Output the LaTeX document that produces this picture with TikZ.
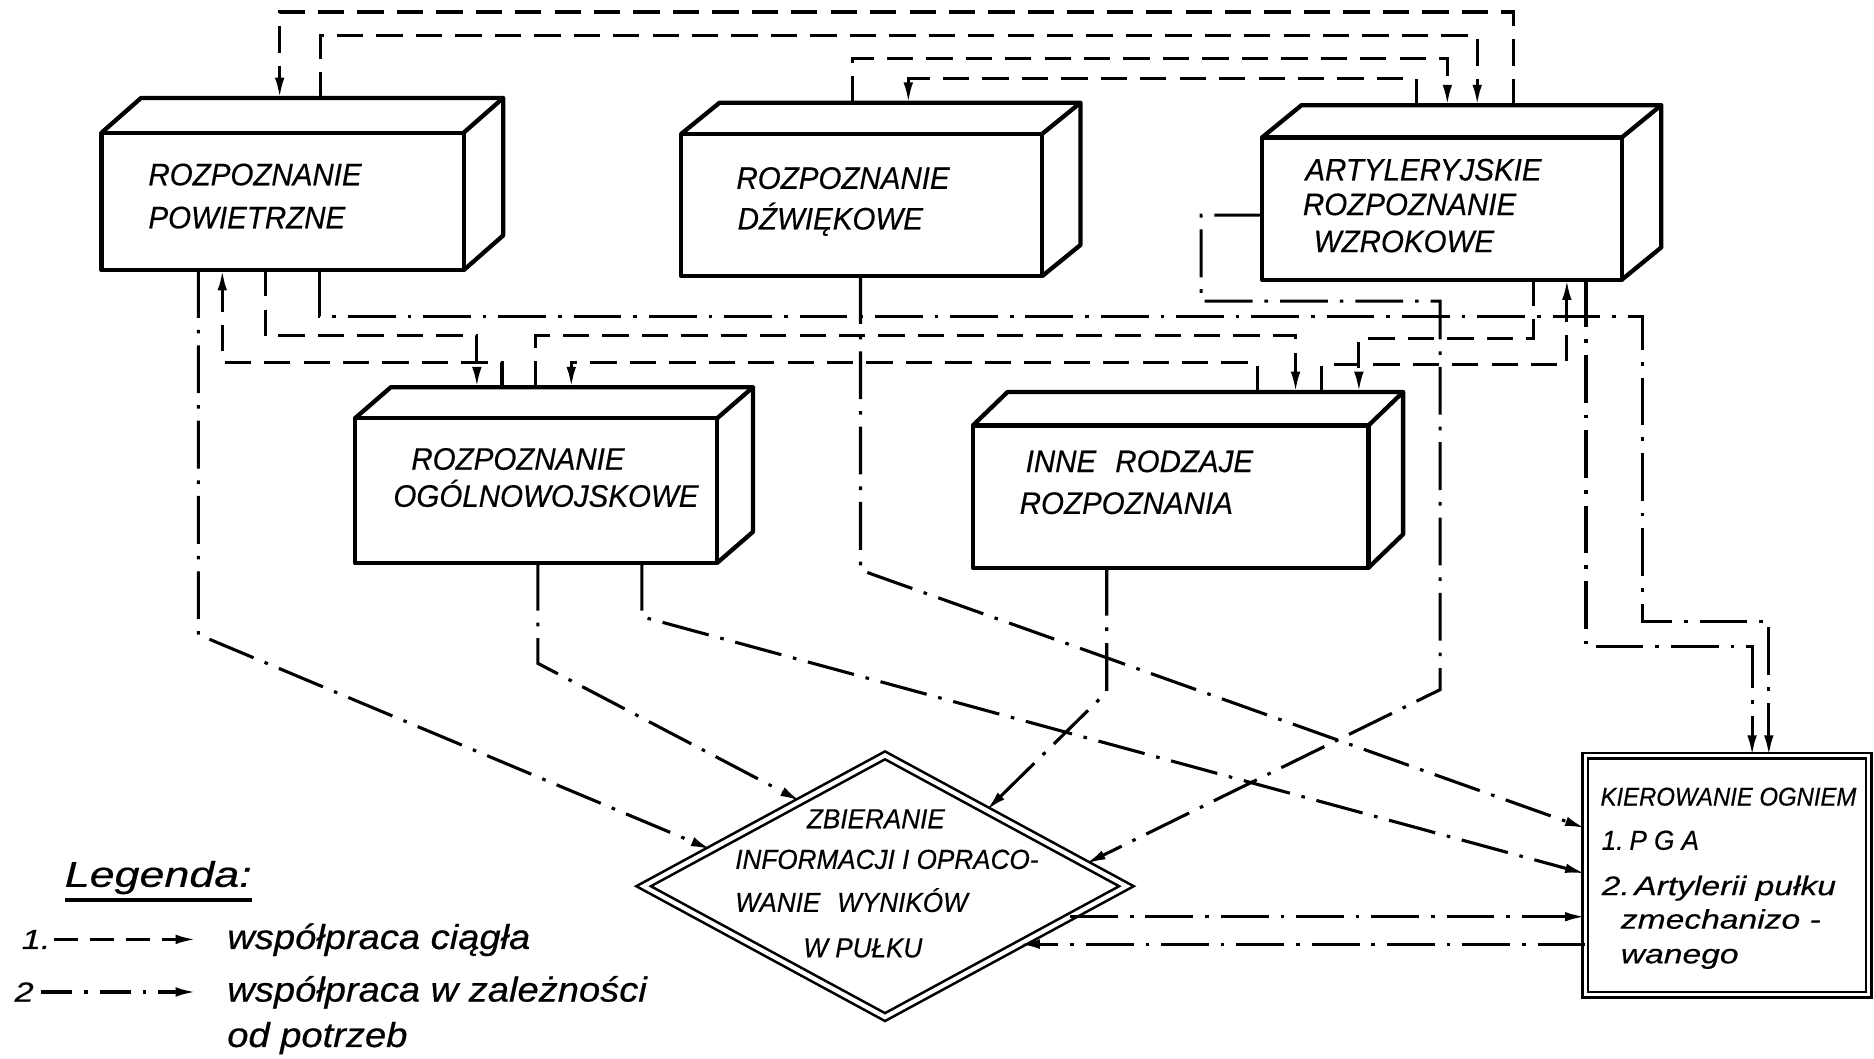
\documentclass[tikz,border=0pt]{standalone}
\usepackage{fontspec}
\setmainfont{Liberation Sans}
\newfontfamily\handfont{Liberation Sans}[FakeStretch=0.95, FakeBold=0.4]
\newfontfamily\handnarrow{Liberation Sans}[FakeStretch=0.93, FakeBold=0.4]
\newfontfamily\handwide{Liberation Sans}[FakeStretch=1.25, FakeBold=0.4]
\newfontfamily\handleg{Liberation Sans}[FakeStretch=1.1, FakeBold=0.5]
\usetikzlibrary{arrows.meta,calc,shapes.geometric}

% front face node + top and side faces of a block
% #1 name, #2 x1, #3 y1, #4 x2, #5 y2, #6 depth dx, #7 depth dy
\newcommand\cuboid[7]{%
  \node[face, minimum width={#4-#2}, minimum height={#5-#3}] (#1) at ({(#2+#4)/2},{(#3+#5)/2}) {};
  \draw[edge] (#1.north west) -- ++(#6,#7) coordinate (#1-b)
     -- ([shift={(#6,#7)}]#1.north east) -- ([shift={(#6,#7)}]#1.south east) -- (#1.south east);
  \draw[edge] (#1.north east) -- ++(#6,#7);
}

\begin{document}
\begin{tikzpicture}[x=1pt,y=-1pt,
  face/.style={draw, rectangle, line width=3.6pt, line join=round, inner sep=0pt, outer sep=0pt},
  edge/.style={line width=3.6pt, line join=round},
  conn/.style={line width=2.6pt},
  dsh/.style={conn, dash pattern=on 22pt off 11pt},
  dshdot/.style={conn, dash pattern=on 40pt off 10pt on 3pt off 10pt},
  arr/.style={-{Latex[length=17pt,width=8pt]}},
  capt/.style={inner sep=0pt, anchor=base west, font=\handfont\itshape\fontsize{26}{31}\selectfont},
  dtxt/.style={inner sep=0pt, anchor=base west, font=\handfont\itshape\fontsize{23}{27}\selectfont},
  ktxt/.style={inner sep=0pt, anchor=base west, font=\handnarrow\itshape\fontsize{21.5}{26}\selectfont},
  klow/.style={inner sep=0pt, anchor=base west, font=\handwide\itshape\fontsize{22.5}{27}\selectfont},
  legtxt/.style={inner sep=0pt, anchor=base west, font=\handleg\itshape\fontsize{29}{34}\selectfont},
  legnum/.style={inner sep=0pt, anchor=base west, font=\handwide\itshape\fontsize{23}{27}\selectfont},
]
\fill[white] (0,0) rectangle (1568,886);
\useasboundingbox (0,0) rectangle (1568,886);

% reconnaissance blocks
\cuboid{pow}{85}{111}{388}{226}{33}{-29}
\cuboid{dzw}{570}{112}{872}{231}{32}{-26}
\cuboid{art}{1056}{115}{1357}{234}{33}{-27}
\cuboid{og}{297}{350}{600}{471}{30}{-26}
\cuboid{inne}{814}{356}{1145}{475}{29}{-28}

% collecting and processing of information
\node[draw, diamond, double, double distance=3.5pt, line width=2.2pt, line join=miter,
      minimum width=404pt, minimum height=219pt, inner sep=0pt, outer sep=0pt] (dia) at (740.5,741.5) {};
% fire control
\node[draw, rectangle, double, double distance=2.6pt, line width=2pt,
      minimum width=237pt, minimum height=200pt, inner sep=0pt, outer sep=0pt] (kier) at (1445,732.3) {};

% labels
\node[capt] (pow-t1) at (124,155) {ROZPOZNANIE};
\node[capt] (pow-t2) at (124,191) {POWIETRZNE};
\node[capt] (dzw-t1) at (616,158) {ROZPOZNANIE};
\node[capt] (dzw-t2) at (617,192) {DŹWIĘKOWE};
\node[capt] (art-t1) at (1092,151) {ARTYLERYJSKIE};
\node[capt] (art-t2) at (1090,180) {ROZPOZNANIE};
\node[capt] (art-t3) at (1099,211) {WZROKOWE};
\node[capt] (og-t1) at (344,393) {ROZPOZNANIE};
\node[capt] (og-t2) at (329,424) {OGÓLNOWOJSKOWE};
\node[capt] (inne-t1) at (858,395) {INNE\hspace{16pt}RODZAJE};
\node[capt] (inne-t2) at (853,430) {ROZPOZNANIA};

\node[dtxt] (dia-t1) at (675,693) {ZBIERANIE};
\node[dtxt] (dia-t2) at (615,727) {INFORMACJI I OPRACO-};
\node[dtxt] (dia-t3) at (615,763) {WANIE\hspace{8pt} WYNIKÓW};
\node[dtxt] (dia-t4) at (672,801) {W PUŁKU};

\node[ktxt] (kier-t1) at (1339,674) {KIEROWANIE OGNIEM};
\node[dtxt] (kier-t2) at (1340,711) {1.\hspace{5pt}P\hspace{6pt}G\hspace{6pt}A};
\node[klow] (kier-t3) at (1340,749) {2.\,Artylerii pułku};
\node[klow] (kier-t4) at (1356,777) {zmechanizo -};
\node[klow] (kier-t5) at (1356,806) {wanego};

% continuous cooperation along the top
\draw[dsh, arr] (art-b -| 1266,0) -- (1266,10) -| (pow-b -| 234,0);
\draw[dsh, arr] (pow-b -| 268,0) |- (1236,30) -- (art-b -| 1236,0);
\draw[dsh, arr] (dzw-b -| 713,0) |- (1211,49) -- (art-b -| 1211,0);
\draw[dsh, arr] (art-b -| 1185,0) |- (760,66) -- (dzw-b -| 760,0);

% links between the blocks in the middle
\draw[dshdot, arr] (pow.south -| 267,0) |- (1374,265) |- (1480,520) -- (kier.north -| 1480,0);
\draw[dsh, arr] (pow.south -| 222,0) |- (399,281) -- (og-b -| 399,0);
\draw[dsh, arr] (og-b -| 420,0) |- (186,303) -- (pow.south -| 186,0);
\draw[dsh, arr] (og-b -| 448,0) |- (1084,281) -- (inne-b -| 1084,0);
\draw[dsh, arr] (inne-b -| 1052,0) |- (478,303) -- (og-b -| 478,0);
\draw[dsh, arr] (art.south -| 1283,0) |- (1137,283) -- (inne-b -| 1137,0);
\draw[dsh, arr] (inne-b -| 1106,0) |- (1311,305) -- (art.south -| 1311,0);
\draw[dshdot, arr] (art.west |- 0,180) -| (1005,252) -| (1205,577) -- ($(dia.north)!0.83!(dia.east)$);
\draw[dshdot, arr] (art.south -| 1327,0) |- (1466,541) -- (kier.north -| 1466,0);

% links as the need arises, lower part
\draw[dshdot, arr] (pow.south -| 166,0) -- (166,531) -- ($(dia.north)!0.72!(dia.west)$);
\draw[dshdot, arr] (dzw.south -| 720,0) -- (720,477) -- (kier.west |- 0,693);
\draw[dshdot, arr] (og.south -| 450,0) -- (450,555) -- ($(dia.north)!0.35!(dia.west)$);
\draw[dshdot, arr] (og.south -| 537,0) -- (537,516) -- (kier.west |- 0,731);
\draw[dshdot, arr] (inne.south -| 926,0) -- (926,579) -- ($(dia.north)!0.42!(dia.east)$);
\coordinate (d6) at ($(dia.east)!0.233!(dia.south)$);
\coordinate (d7) at ($(dia.east)!0.443!(dia.south)$);
\draw[dshdot, arr] (d6) -- (kier.west |- d6);
\draw[dshdot, arr] (kier.west |- d7) -- (d7);

% legend
\node[inner sep=0pt, anchor=base west, font=\handwide\itshape\fontsize{30}{36}\selectfont] (leg) at (54,742) {Legenda:};
\draw[line width=2.6pt] ([yshift=-11pt]leg.base west) -- ([yshift=-11pt]leg.base east);
\node[legnum] (l1n) at (18,794) {1.};
\node[legtxt] (l1t) at (190,794) {współpraca ciągła};
\node[legnum] (l2n) at (12,838) {2};
\node[legtxt] (l2t) at (190,838) {współpraca w zależności};
\node[legtxt] (l3t) at (190,876) {od potrzeb};
\draw[conn, dash pattern=on 20pt off 10pt, arr] ($(l1n.base east)+(3,-8)$) -- ($(l1t.base west)+(-26,-8)$);
\draw[conn, dash pattern=on 26pt off 10pt on 3pt off 10pt, arr] ($(l2n.base east)+(6,-8)$) -- ($(l2t.base west)+(-26,-8)$);
\end{tikzpicture}
\end{document}
